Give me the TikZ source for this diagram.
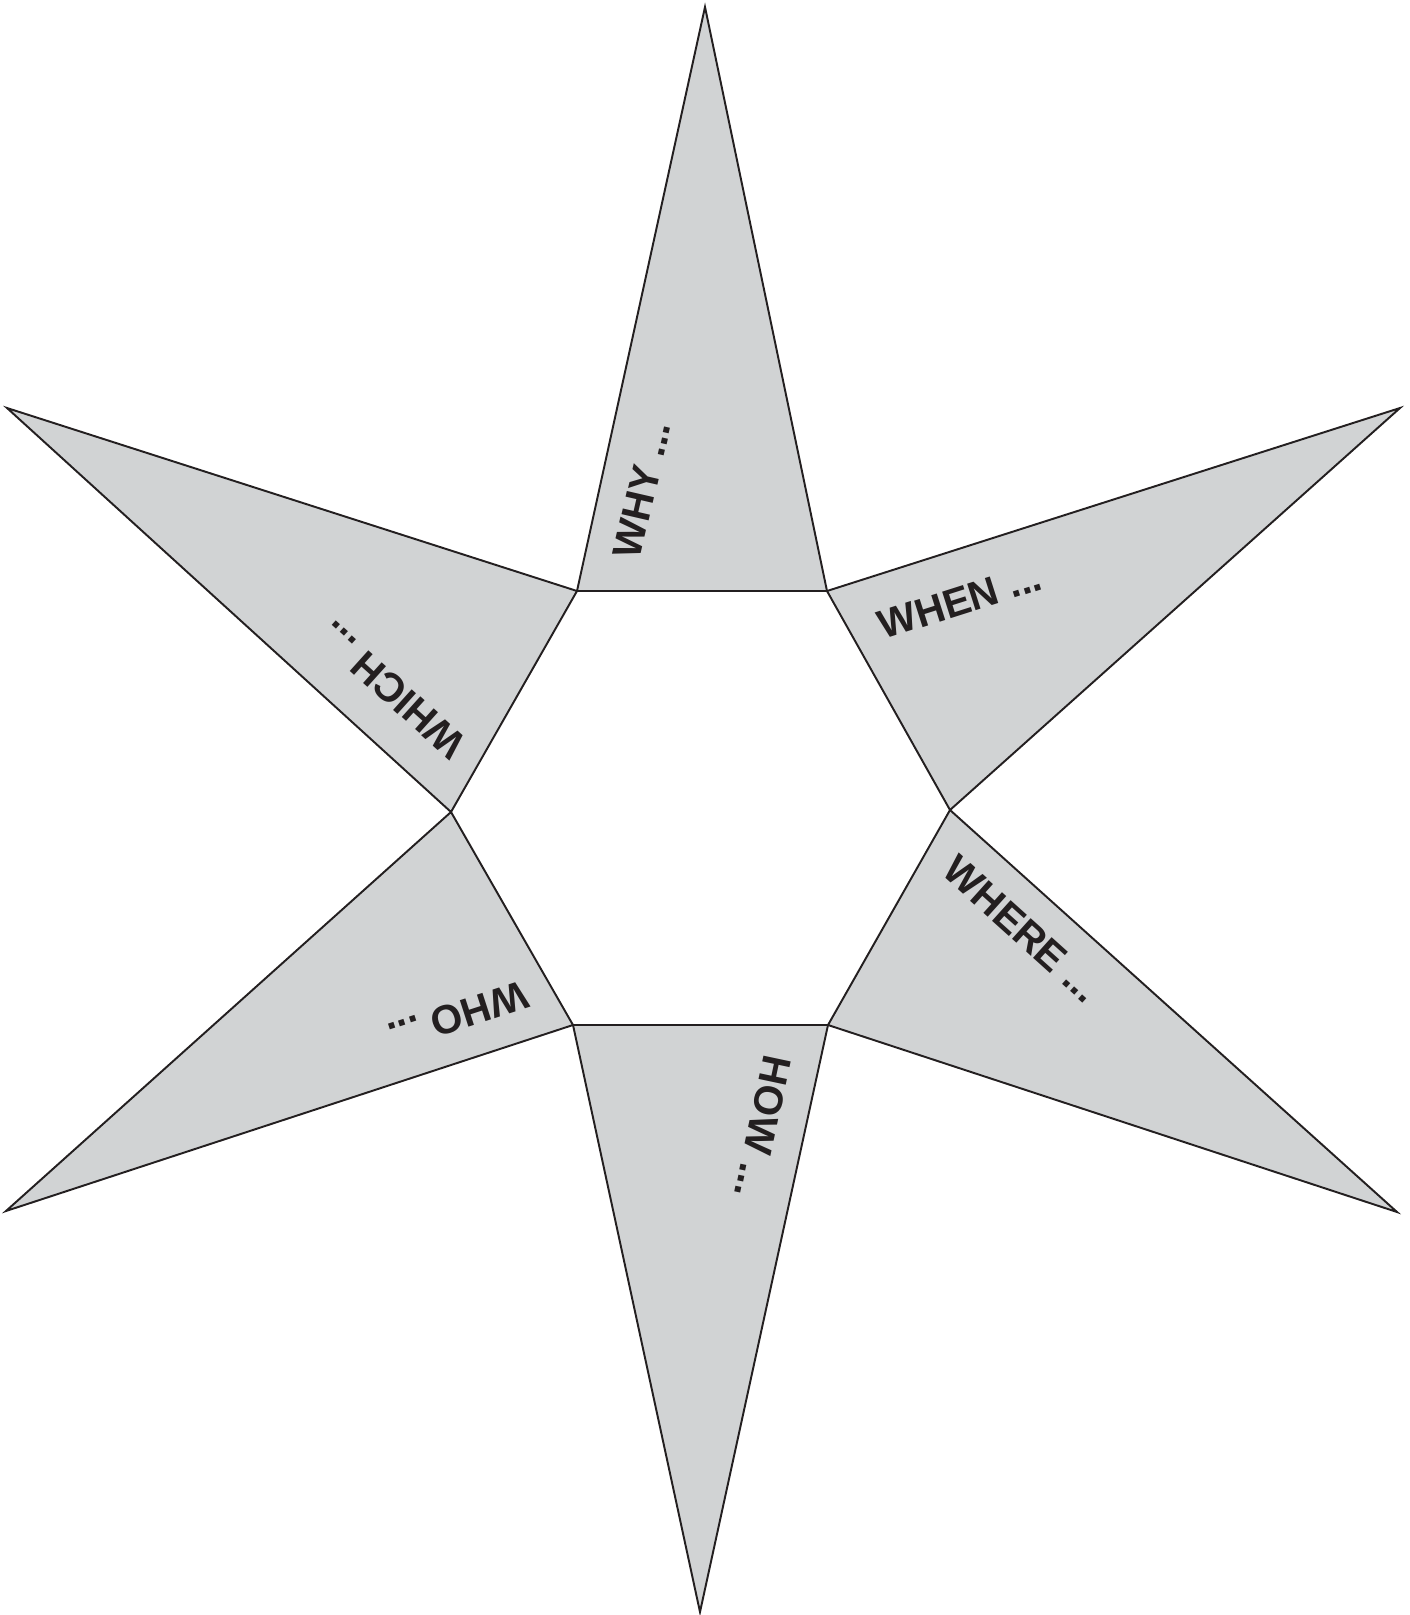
\documentclass[tikz,border=0pt]{standalone}
\usepackage{fontspec}
\setmainfont{Liberation Sans}
\usetikzlibrary{positioning}
\definecolor{starGray}{HTML}{D1D3D4}
\definecolor{starInk}{HTML}{231F20}

\begin{document}
\begin{tikzpicture}[x=0.01cm, y=-0.01cm,
  spike/.style={draw=starInk, fill=starGray, line width=0.55pt, line join=miter},
  qlabel/.style={font=\fontsize{11.5}{13}\selectfont\bfseries, text=starInk, inner sep=0pt}]
  \useasboundingbox (0,0) rectangle (1410,1615);
  % inner hexagon corners and spike tips
  \coordinate (h1) at (577,591);  \coordinate (h2) at (827,591);
  \coordinate (h3) at (950,810);  \coordinate (h4) at (828,1025);
  \coordinate (h5) at (573,1025); \coordinate (h6) at (451,812);
  \coordinate (t1) at (705,7);    \coordinate (t2) at (1400,408);
  \coordinate (t3) at (1397,1212);\coordinate (t4) at (700,1612);
  \coordinate (t5) at (6,1211);   \coordinate (t6) at (7,408);
  \foreach \a/\b in {1/2,2/3,3/4,4/5,5/6,6/1}{
    \draw[spike] (h\a) -- (t\a) -- (h\b) -- cycle;}
  % question words
  \node[qlabel, rotate=77]   (why)   at (642,490)  {WHY ...};
  \node[qlabel, rotate=17.7] (when)  at (960,601)  {WHEN ...};
  \node[qlabel, rotate=-42]  (where) at (1022,929) {WHERE ...};
  \node[qlabel, rotate=-102] (how)   at (763,1127) {HOW ...};
  \node[qlabel, rotate=198]  (who)   at (458,1016) {WHO ...};
  \node[qlabel, rotate=138]  (which) at (392,690)  {WHICH ...};
\end{tikzpicture}
\end{document}
